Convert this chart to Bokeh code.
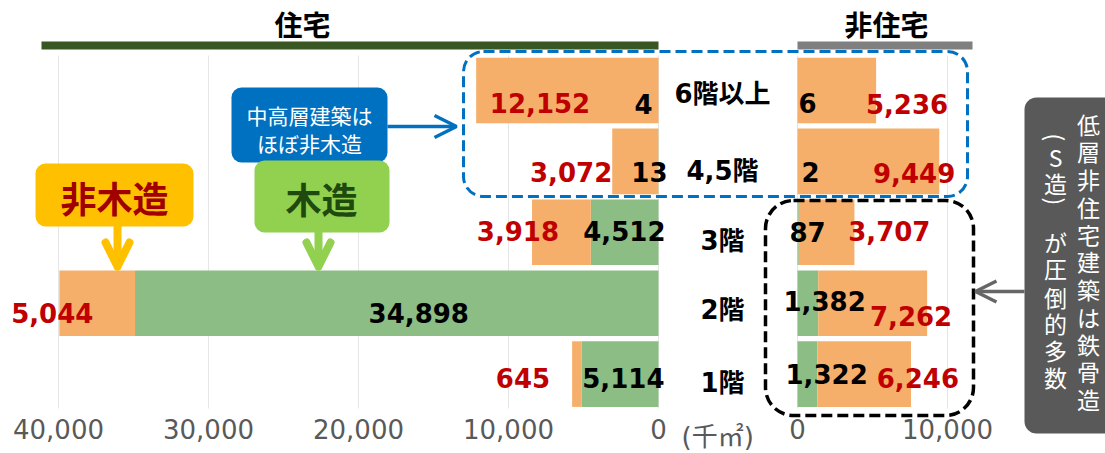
import math
from bokeh.plotting import figure
from bokeh.models import (Range1d, LinearAxis, FixedTicker, Grid,
                          BoxAnnotation, Label, Arrow, OpenHead, ColumnDataSource,
                          NumeralTickFormatter)
from bokeh.core.properties import value
from bokeh.embed import file_html
from bokeh.resources import INLINE

# ---------------- data (千㎡) ----------------
floors = ["6階以上", "4,5階", "3階", "2階", "1階"]
res_wood = [4, 13, 4512, 34898, 5114]           # 住宅・木造
res_nonwood = [12152, 3072, 3918, 5044, 645]    # 住宅・非木造
nres_wood = [6, 2, 87, 1382, 1322]              # 非住宅・木造
nres_nonwood = [5236, 9449, 3707, 7262, 6246]   # 非住宅・非木造
left_ticks = [0, 10000, 20000, 30000, 40000]
right_ticks = [0, 10000]

# ---------------- layout ----------------
W, H = 1105, 453
def fx(x): return x
def fy(y): return y
PX = 0.015                      # pixels per 千㎡
ZL, ZR = fx(658), fx(797)       # zero lines of the two panels
ROW0, PITCH = fy(90), 70.9      # first row centre / row pitch (px)
pos = list(range(len(floors)))  # row index of each floor

GREEN, ORANGE, RED = "#8BBD84", "#F5AF6A", "#C00000"
NUMF = "DejaVu Sans"
MIXF = "DejaVu Sans, Noto Sans CJK JP"
JPF = "Noto Sans CJK JP"

p = figure(width=W, height=H, output_backend="svg", toolbar_location=None,
           x_range=Range1d(0, W), y_range=Range1d(H, 0),
           x_axis_type=None, y_axis_type=None, min_border=0,
           outline_line_color=None, background_fill_color="white",
           border_fill_color="white")
p.extra_x_ranges = {"left": Range1d(ZL / PX, (ZL - W) / PX),
                    "right": Range1d(-ZR / PX, (W - ZR) / PX)}
p.extra_y_ranges = {"rows": Range1d((H - ROW0) / PITCH, (0 - ROW0) / PITCH)}

# grids & axes
for name, ticks in (("left", left_ticks), ("right", right_ticks)):
    p.add_layout(Grid(dimension=0, x_range_name=name, ticker=FixedTicker(ticks=ticks),
                      grid_line_color="#E6E6E6", cross_bounds=(fy(408), fy(55))))
    ax = LinearAxis(x_range_name=name, ticker=FixedTicker(ticks=ticks),
                    formatter=NumeralTickFormatter(format="0,0"), fixed_location=fy(408),
                    axis_line_color=None, major_tick_line_color=None,
                    minor_tick_line_color=None, major_tick_out=0, major_tick_in=0,
                    major_label_standoff=10, major_label_text_font=NUMF,
                    major_label_text_font_size="26px", major_label_text_color="#595959")
    p.add_layout(ax, "below")

# bars
res_src = ColumnDataSource(dict(floor=floors, pos=pos, wood=res_wood, nonwood=res_nonwood))
p.hbar_stack(["wood", "nonwood"], y="pos", height=0.925, fill_color=[GREEN, ORANGE],
             line_color=None, source=res_src, x_range_name="left", y_range_name="rows")
nres_src = ColumnDataSource(dict(floor=floors, pos=pos, wood=nres_wood, nonwood=nres_nonwood))
p.hbar_stack(["wood", "nonwood"], y="pos", height=0.925, fill_color=[GREEN, ORANGE],
             line_color=None, source=nres_src, x_range_name="right", y_range_name="rows")


def put_text(xs, ys, texts, dx, dy, align, color, rng, font=NUMF, size="26px"):
    src = ColumnDataSource(dict(x=xs, y=ys, t=texts, dx=dx, dy=dy))
    p.text(x="x", y="y", text="t", x_offset="dx", y_offset="dy", source=src,
           text_align=align, text_baseline="middle", text_color=color,
           text_font=value(font), text_font_style="bold", text_font_size=size,
           x_range_name=rng, y_range_name="rows")


fmt = lambda v: f"{v:,}"
edge = [0, 1, 2, 4]
put_text([0] * 4, [pos[i] for i in edge], [fmt(res_wood[i]) for i in edge],
         [-6, 9, 7, 6], [13.5, 10.5, -1.5, 3.5], "right", "black", "left")
put_text([res_wood[3] / 2], [pos[3]], [fmt(res_wood[3])], [22], [9.5],
         "center", "black", "left")
put_text([w + n for w, n in zip(res_wood, res_nonwood)], pos,
         [fmt(v) for v in res_nonwood], [114, 0, 27, 34, -22],
         [12, 11, -1.5, 10, 3.5], "right", RED, "left")
put_text([0] * 5, pos, [fmt(v) for v in nres_wood], [1, 4, -8, -14, -12],
         [12.5, 11, 0, -2.5, 0], "left", "black", "right")
put_text([w + n for w, n in zip(nres_wood, nres_nonwood)], pos,
         [fmt(v) for v in nres_nonwood], [72, 16, 76, 25, 48],
         [13, 11.5, -1.5, 12.5, 3.5], "right", RED, "right")

# floor labels in the gap
cat_src = ColumnDataSource(dict(x=[fx(722)] * 5, y=pos, t=floors, dy=[3, 9.5, 8.5, 7, 9]))
p.text(x="x", y="y", text="t", y_offset="dy", source=cat_src, text_align="center",
       text_baseline="middle", text_color="black", text_font=value(MIXF),
       text_font_style="bold", text_font_size="26px", y_range_name="rows")


def box(l, r, t, b, **kw):
    p.add_layout(BoxAnnotation(left=fx(l), right=fx(r), top=fy(t), bottom=fy(b), **kw))


def label(x, y, text, size, color="black", font=JPF, style="normal", align="center",
          angle=0):
    p.add_layout(Label(x=fx(x), y=fy(y), text=text, text_align=align, angle=angle,
                       text_baseline="middle", text_font=font, text_font_size=size,
                       text_font_style=style, text_color=color))


# headers
box(41, 658, 41, 49, fill_color="#385723", fill_alpha=1, line_color=None)
box(797, 972, 41, 49, fill_color="#7F7F7F", fill_alpha=1, line_color=None)
label(302, 23, "住宅", "28px", style="bold")
label(886, 23, "非住宅", "28px", style="bold")
label(681, 436, "(千㎡)", "26px", color="#595959", font=MIXF, align="left")

# dashed highlight boxes
box(463, 967, 51, 196, fill_alpha=0, line_color="#0070C0", line_alpha=1, line_width=3,
    line_dash="11 5", border_radius=20)
box(765, 973, 200, 415, fill_alpha=0, line_color="black", line_alpha=1, line_width=3.5,
    line_dash="11 5", border_radius=28)

# callouts
box(231, 387, 87, 162, fill_color="#0070C0", fill_alpha=1, line_color=None, border_radius=10)
label(309, 114, "中高層建築は", "21px", color="white")
label(309, 142, "ほぼ非木造", "21px", color="white")
p.add_layout(Arrow(x_start=fx(387), y_start=fy(126), x_end=fx(456), y_end=fy(126),
                   line_color="#0070C0", line_width=3.5,
                   end=OpenHead(size=22, line_color="#0070C0", line_width=3.5)))

box(35, 193, 163, 226, fill_color="#FFC000", fill_alpha=1, line_color=None, border_radius=10)
label(114, 196, "非木造", "36px", color="#A00000", style="bold")
p.add_layout(Arrow(x_start=fx(117), y_start=fy(226), x_end=fx(117), y_end=fy(266),
                   line_color="#FFC000", line_width=8, line_cap="round",
                   end=OpenHead(size=24, line_color="#FFC000", line_width=8,
                                line_cap="round", line_join="round")))

box(254, 389, 160, 232, fill_color="#92D050", fill_alpha=1, line_color=None, border_radius=10)
label(321, 197, "木造", "36px", color="#1E4A0E", style="bold")
p.add_layout(Arrow(x_start=fx(318), y_start=fy(232), x_end=fx(318), y_end=fy(266),
                   line_color="#92D050", line_width=8, line_cap="round",
                   end=OpenHead(size=24, line_color="#92D050", line_width=8,
                                line_cap="round", line_join="round")))

box(1024, 1120, 97, 433, fill_color="#595959", fill_alpha=1, line_color=None, border_radius=12)
p.add_layout(Arrow(x_start=fx(1024), y_start=fy(291), x_end=fx(975), y_end=fy(291),
                   line_color="#666666", line_width=3.5,
                   end=OpenHead(size=21, line_color="#666666", line_width=3.5)))
col_r = "低層非住宅建築は鉄骨造"
col_r_y = [123, 150, 178, 206, 233, 260, 288, 316, 343, 370, 398]
for ch, yy in zip(col_r, col_r_y):
    label(1088, yy, ch, "23px", color="white")
col_l = ["(", "S", "造", ")", "が", "圧", "倒", "的", "多", "数"]
col_l_y = [137, 156, 182.5, 201, 241, 267.5, 296, 322.5, 349, 376]
col_l_rot = [True, False, False, True, False, False, False, False, False, False]
for ch, yy, rot in zip(col_l, col_l_y, col_l_rot):
    label(1055, yy, ch, "23px", color="white", angle=-math.pi / 2 if rot else 0)

open("out.html", "w").write(file_html(p, INLINE))
